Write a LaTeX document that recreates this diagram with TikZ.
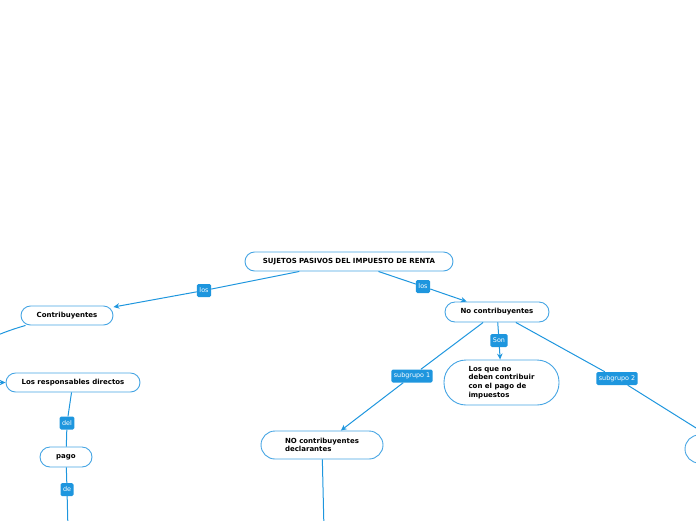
\documentclass[tikz,border=0pt]{standalone}
\usepackage{fontspec}
\setmainfont{DejaVu Sans}
\usetikzlibrary{arrows.meta}

\definecolor{azul}{RGB}{30,150,222}
\definecolor{borde}{RGB}{70,165,228}

\begin{document}
\begin{tikzpicture}[x=1pt,y=-1pt,
  tema/.style={draw=borde, line width=0.9pt, fill=white, inner sep=0pt,
    font=\bfseries\fontsize{7}{8.7}\selectfont, align=left},
  etiqueta/.style={fill=azul, rounded corners=1.5pt, text=white, inner xsep=2.5pt,
    inner ysep=0pt, minimum height=13pt, font=\fontsize{6.4}{7}\selectfont},
  enlace/.style={draw=azul, line width=1pt},
  flecha/.style={enlace, -{Stealth[length=6pt,width=5.5pt]}}]
\useasboundingbox (0,0) rectangle (696,520);
\clip (0,0) rectangle (696,520);
% Tema central
\node[tema, rounded corners=9.5pt, minimum width=208pt, minimum height=19pt] (sujetos) at (349,261.5) {SUJETOS PASIVOS DEL IMPUESTO DE RENTA};
% Rama izquierda
\node[tema, rounded corners=9.5pt, minimum width=92pt, minimum height=19pt] (contrib) at (67,315.5) {Contribuyentes};
\node[tema, rounded corners=9.5pt, minimum width=134pt, minimum height=19pt] (directos) at (73,382.5) {Los responsables directos};
\node[tema, rounded corners=10pt, minimum width=52pt, minimum height=20pt] (pago) at (66,457) {pago};
% Rama derecha
\node[tema, rounded corners=10pt, minimum width=104pt, minimum height=20pt] (nocontrib) at (497,312) {No contribuyentes};
\node[tema, rounded corners=22pt, minimum width=115pt, minimum height=45pt] (losque) at (501.5,382.5) {Los que no\\deben contribuir\\con el pago de\\impuestos};
\node[tema, rounded corners=14pt, minimum width=122pt, minimum height=28pt] (declar) at (322,445) {NO contribuyentes\\declarantes};
\node[tema, rounded corners=14pt, minimum width=120pt, minimum height=28pt] (nodecl) at (745,449) {};
% Etiquetas
\node[etiqueta] (los1) at (204,290.5) {los};
\node[etiqueta] (los2) at (423,286.5) {los};
\node[etiqueta] (son) at (499,340.5) {Son};
\node[etiqueta] (sub1) at (412,376) {subgrupo 1};
\node[etiqueta] (sub2) at (617,378.5) {subgrupo 2};
\node[etiqueta] (del) at (67,423) {del};
\node[etiqueta] (de) at (67,489.5) {de};
% Extremos fuera del cuadro
\coordinate (fin1) at (68,530);
\coordinate (fin2) at (324,530);
% Conectores
\draw[enlace] (sujetos) -- (los1);
\draw[flecha] (los1) -- (contrib);
\draw[enlace] (sujetos) -- (los2);
\draw[flecha] (los2) -- (nocontrib);
\draw[flecha] ([xshift=5pt]contrib.south west) .. controls (-60,350) and (-45,382.5) .. (directos.west);
\draw[enlace] (directos) -- (del);
\draw[enlace] (del) -- (pago);
\draw[enlace] (pago) -- (de);
\draw[enlace] (de) -- (fin1);
\draw[enlace] (nocontrib) -- (son);
\draw[flecha] (son) -- (losque);
\draw[enlace] (nocontrib) -- (sub1);
\draw[flecha] (sub1) -- (declar);
\draw[enlace] (nocontrib) -- (sub2);
\draw[flecha] (sub2) -- ([xshift=22pt]nodecl.north west);
\draw[enlace] (declar) -- (fin2);
\end{tikzpicture}
\end{document}
